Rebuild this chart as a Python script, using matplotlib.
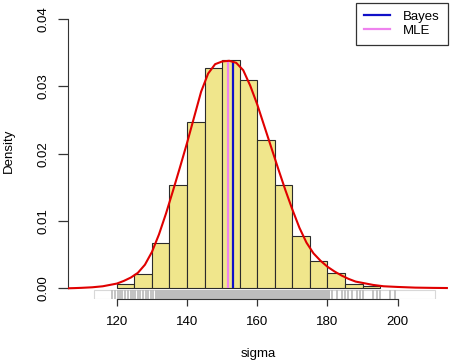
import matplotlib.pyplot as plt
from matplotlib.patches import Rectangle

plt.rcParams['font.family'] = ['Liberation Sans', 'DejaVu Sans']

# Гистограмма: левые границы интервалов (ширина 5) и плотности
bin_left = [120, 125, 130, 135, 140, 145, 150, 155, 160, 165, 170, 175, 180, 185, 190]
bin_height = [0.0006, 0.0021, 0.0068, 0.0153, 0.0247, 0.0327, 0.0339, 0.0309,
              0.0221, 0.0153, 0.0077, 0.0041, 0.0023, 0.0007, 0.0003]
bin_width = 5

curve_x = [106, 108, 110, 113, 116, 118, 120, 122, 124, 126, 128, 130, 132, 134, 136,
           138, 140, 142, 144, 146, 148, 150, 152, 154, 156, 158, 160, 162, 164, 166,
           168, 170, 172, 174, 176, 178, 180, 182, 184, 186, 188, 190, 193, 196, 200,
           205, 210, 214]
curve_y = [0.0, 0.00003, 0.00007, 0.00015, 0.0003, 0.0005, 0.0007, 0.0011, 0.0016,
           0.0023, 0.0035, 0.0054, 0.0080, 0.0111, 0.0145, 0.0180, 0.0216, 0.0254,
           0.0292, 0.0319, 0.0333, 0.0337, 0.0338, 0.0335, 0.0324, 0.0301, 0.0273,
           0.0241, 0.0209, 0.0177, 0.0146, 0.0117, 0.0090, 0.0068, 0.0052, 0.0041,
           0.0032, 0.0025, 0.0019, 0.0014, 0.0010, 0.0008, 0.0005, 0.0003, 0.0002,
           0.0001, 0.00006, 0.00004]

# Оценки (вертикальные линии до вершины кривой)
bayes = 153.2
mle = 151.8
line_top = 0.0337

# Rug: хвосты отдельными штрихами, середина сплошной полосой
rug_left = [118.7, 119.5, 120.2, 121.0, 121.6, 122.4, 123.1, 123.9, 124.5, 125.3, 125.9,
            126.7, 127.4, 128.2, 128.8, 129.6, 130.3]
rug_dense = (131.0, 180.7)
rug_right = [181.4, 182.6, 184.0, 185.0, 185.9, 186.9, 188.3, 189.2, 190.2, 193.0,
             194.0, 194.9, 197.8, 199.2]
rug_range = (113.6, 210.6)

xlim = (106.1, 214.3)
ylim = (-0.00163, 0.04243)

fig = plt.figure(figsize=(4.74, 3.61), dpi=100)
ax = fig.add_axes([0.1435, 0.171, 0.8015, 0.8215])

ax.bar(bin_left, bin_height, width=bin_width, align='edge',
       color='#F0E68C', edgecolor='#2b2b2b', linewidth=0.8, zorder=2)

# rug
rug_top = ylim[0] + 0.03 * (ylim[1] - ylim[0])
ax.add_patch(Rectangle((rug_range[0], ylim[0]), rug_range[1] - rug_range[0], rug_top - ylim[0],
                       facecolor='white', edgecolor='#d8d8d8', linewidth=0.8, zorder=1))
ax.add_patch(Rectangle((rug_dense[0], ylim[0]), rug_dense[1] - rug_dense[0], rug_top - ylim[0],
                       facecolor='#bebebe', edgecolor='none', zorder=1.5))
ax.vlines(rug_left + rug_right, ylim[0], rug_top, color='#bebebe', linewidth=1.3, zorder=1.5)

ax.vlines(mle, 0, line_top, color='violet', linewidth=1.6, zorder=3)
ax.vlines(bayes, 0, line_top, color='#1010c8', linewidth=1.6, zorder=3)
ax.plot(curve_x, curve_y, color='#e00000', linewidth=1.5, zorder=4)

ax.set_xlim(xlim)
ax.set_ylim(ylim)
ax.set_xticks([120, 140, 160, 180, 200])
ax.set_yticks([0.0, 0.01, 0.02, 0.03, 0.04])
ax.set_yticklabels(['0.00', '0.01', '0.02', '0.03', '0.04'], rotation=90, va='center')
ax.spines['top'].set_visible(False)
ax.spines['right'].set_visible(False)
ax.spines['bottom'].set_bounds(120, 200)
ax.spines['left'].set_bounds(0, 0.04)
ax.spines['bottom'].set_color('#333333')
ax.spines['left'].set_color('#333333')
ax.tick_params(axis='x', length=5, width=0.9, pad=7, labelsize=9.5, color='#333333')
ax.tick_params(axis='y', length=7, width=0.9, pad=6, labelsize=9.5, color='#333333')

ax.set_xlabel('sigma', fontsize=9.5)
ax.set_ylabel('Density', fontsize=9.5)
ax.xaxis.set_label_coords(0.5, -0.165)
ax.yaxis.set_label_coords(-0.14, 0.5)

# Легенда
h1, = ax.plot([], [], color='#1010c8', linewidth=1.6)
h2, = ax.plot([], [], color='violet', linewidth=1.6)
leg = ax.legend([h1, h2], ['Bayes', 'MLE'], loc='upper right', bbox_to_anchor=(1, 1),
                borderaxespad=0, fancybox=False, fontsize=9.5, handlelength=2.0,
                handletextpad=1.0, borderpad=0.6, labelspacing=0.15, framealpha=1)
leg.get_frame().set_edgecolor('#333333')
leg.get_frame().set_linewidth(0.9)

fig.savefig('out.png', dpi=100)
